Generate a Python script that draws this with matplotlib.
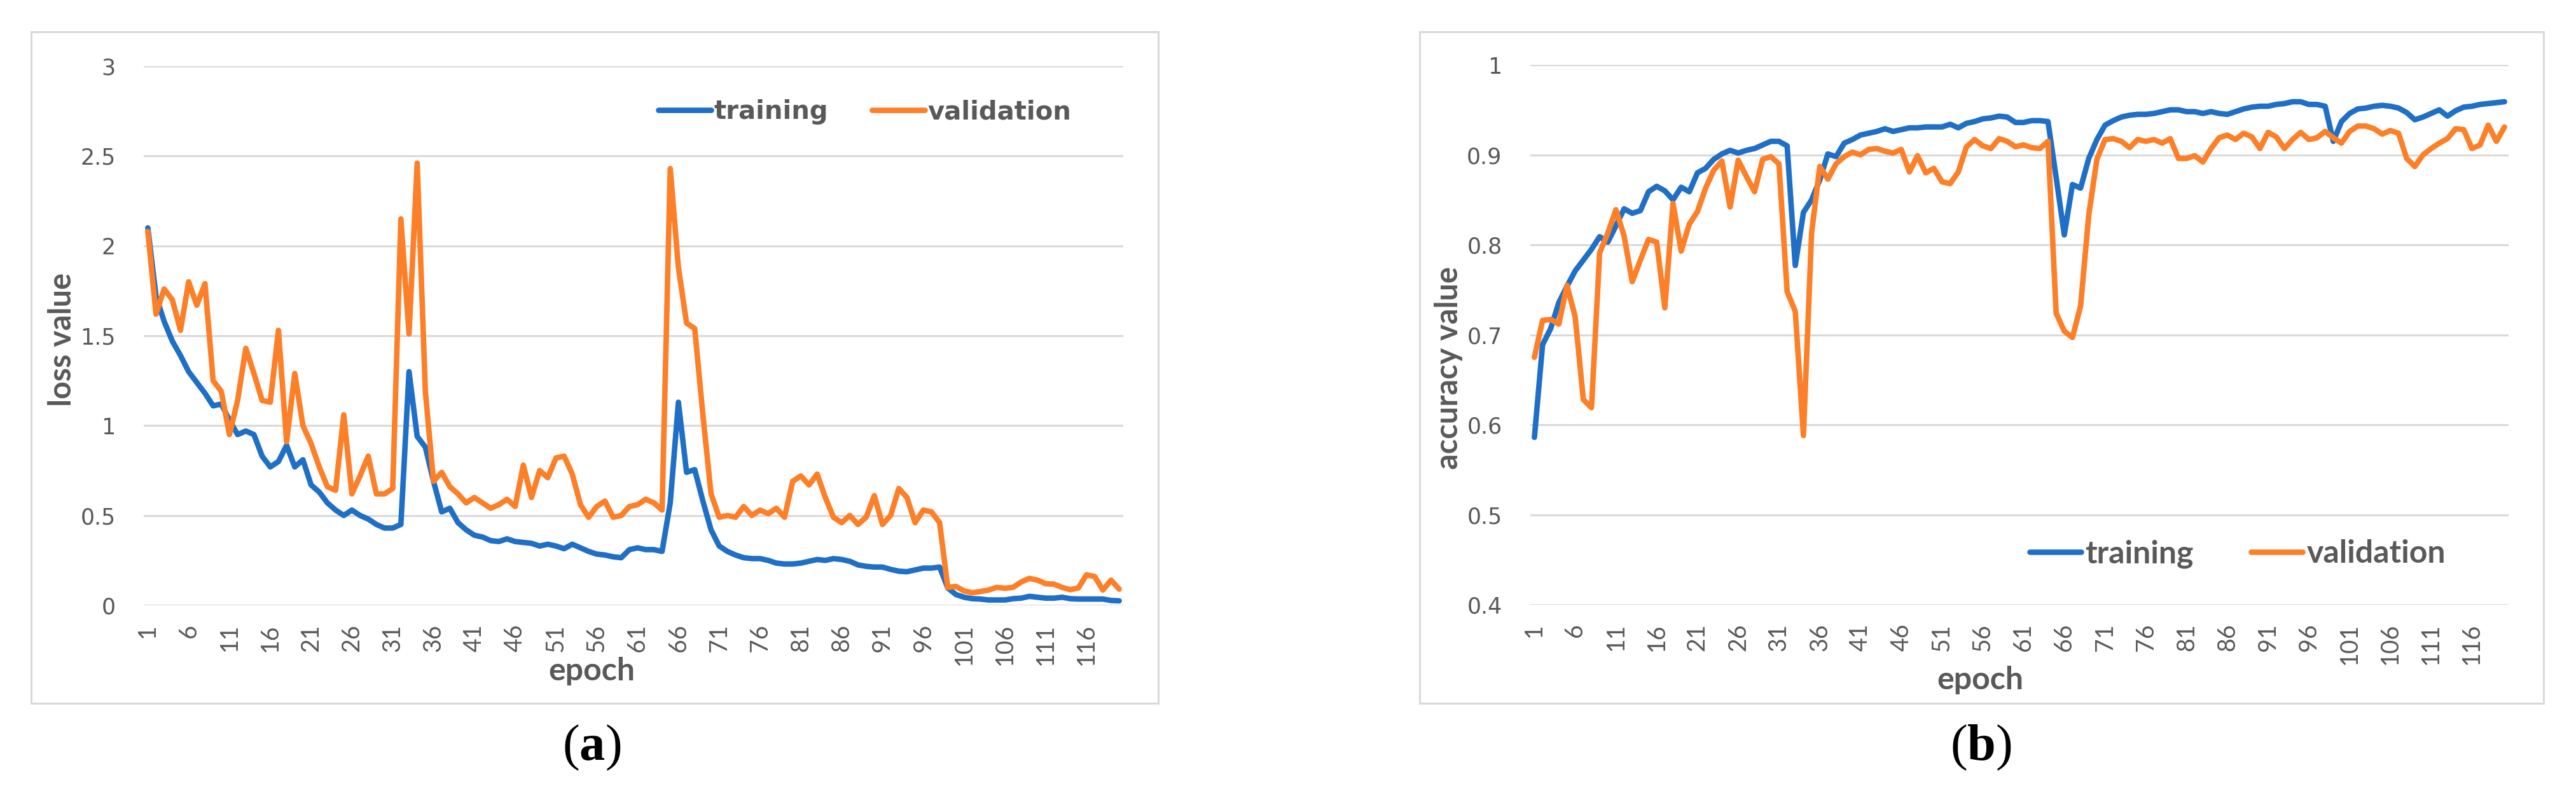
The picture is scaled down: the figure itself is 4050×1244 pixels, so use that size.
import matplotlib
matplotlib.use("Agg")
import matplotlib.pyplot as plt
from matplotlib.patches import Rectangle

# ---------------- data ----------------
epochs = list(range(1, 121))
tick_epochs = list(range(1, 121, 5))

train_loss = [2.10, 1.72, 1.58, 1.47, 1.39, 1.30, 1.24, 1.18, 1.11, 1.12,
              1.03, 0.95, 0.97, 0.95, 0.83, 0.77, 0.80, 0.89, 0.77, 0.81,
              0.67, 0.63, 0.57, 0.53, 0.50, 0.53, 0.50, 0.48, 0.45, 0.43,
              0.43, 0.45, 1.30, 0.94, 0.88, 0.69, 0.52, 0.54, 0.46, 0.42,
              0.39, 0.38, 0.36, 0.355, 0.37, 0.355, 0.35, 0.345, 0.33, 0.34,
              0.33, 0.315, 0.34, 0.32, 0.30, 0.285, 0.28, 0.27, 0.265, 0.31,
              0.32, 0.31, 0.31, 0.30, 0.57, 1.13, 0.74, 0.755, 0.58, 0.42,
              0.33, 0.30, 0.28, 0.265, 0.26, 0.26, 0.25, 0.235, 0.23, 0.23,
              0.235, 0.245, 0.255, 0.25, 0.26, 0.255, 0.245, 0.225, 0.217, 0.213,
              0.213, 0.20, 0.19, 0.187, 0.197, 0.207, 0.207, 0.213, 0.097, 0.06,
              0.045, 0.037, 0.035, 0.03, 0.03, 0.03, 0.037, 0.04, 0.05, 0.045,
              0.04, 0.04, 0.045, 0.037, 0.035, 0.035, 0.035, 0.035, 0.027, 0.025]

val_loss = [2.08, 1.62, 1.76, 1.70, 1.53, 1.80, 1.67, 1.79, 1.25, 1.19,
            0.95, 1.14, 1.43, 1.29, 1.14, 1.13, 1.53, 0.91, 1.29, 1.00,
            0.90, 0.77, 0.66, 0.64, 1.06, 0.62, 0.72, 0.83, 0.62, 0.62,
            0.65, 2.15, 1.51, 2.46, 1.19, 0.69, 0.74, 0.66, 0.62, 0.57,
            0.60, 0.57, 0.54, 0.56, 0.59, 0.55, 0.78, 0.60, 0.75, 0.71,
            0.82, 0.83, 0.73, 0.56, 0.49, 0.55, 0.58, 0.49, 0.50, 0.55,
            0.56, 0.59, 0.57, 0.53, 2.43, 1.88, 1.57, 1.54, 1.06, 0.62,
            0.49, 0.50, 0.49, 0.55, 0.50, 0.53, 0.51, 0.54, 0.49, 0.69,
            0.72, 0.67, 0.73, 0.60, 0.49, 0.46, 0.50, 0.45, 0.49, 0.61,
            0.45, 0.50, 0.65, 0.60, 0.46, 0.53, 0.52, 0.46, 0.10, 0.105,
            0.08, 0.07, 0.077, 0.085, 0.10, 0.095, 0.10, 0.13, 0.15, 0.14,
            0.12, 0.118, 0.10, 0.087, 0.097, 0.17, 0.16, 0.085, 0.14, 0.09]

train_acc = [0.586, 0.689, 0.707, 0.736, 0.754, 0.771, 0.783, 0.795, 0.809, 0.803,
             0.821, 0.840, 0.835, 0.838, 0.859, 0.865, 0.860, 0.850, 0.864, 0.859,
             0.880, 0.885, 0.895, 0.901, 0.905, 0.902, 0.905, 0.907, 0.911, 0.915,
             0.915, 0.910, 0.777, 0.836, 0.850, 0.872, 0.901, 0.898, 0.913, 0.917,
             0.922, 0.924, 0.926, 0.929, 0.926, 0.928, 0.930, 0.930, 0.931, 0.931,
             0.931, 0.934, 0.930, 0.935, 0.937, 0.940, 0.941, 0.943, 0.942, 0.936,
             0.936, 0.938, 0.938, 0.937, 0.875, 0.811, 0.867, 0.863, 0.896, 0.917,
             0.933, 0.938, 0.942, 0.944, 0.945, 0.945, 0.946, 0.948, 0.950, 0.950,
             0.948, 0.948, 0.946, 0.948, 0.946, 0.945, 0.948, 0.951, 0.953, 0.954,
             0.954, 0.956, 0.957, 0.959, 0.959, 0.956, 0.956, 0.954, 0.915, 0.937,
             0.946, 0.951, 0.952, 0.954, 0.955, 0.954, 0.952, 0.947, 0.939, 0.942,
             0.946, 0.950, 0.943, 0.949, 0.953, 0.954, 0.956, 0.957, 0.958, 0.959]

val_acc = [0.675, 0.716, 0.717, 0.712, 0.755, 0.720, 0.628, 0.619, 0.791, 0.813,
           0.839, 0.810, 0.759, 0.783, 0.806, 0.803, 0.730, 0.846, 0.793, 0.823,
           0.837, 0.863, 0.883, 0.893, 0.842, 0.894, 0.876, 0.859, 0.895, 0.898,
           0.890, 0.748, 0.726, 0.588, 0.813, 0.887, 0.873, 0.890, 0.898, 0.903,
           0.900, 0.906, 0.907, 0.904, 0.902, 0.906, 0.881, 0.899, 0.880, 0.885,
           0.870, 0.868, 0.881, 0.909, 0.917, 0.910, 0.907, 0.918, 0.915, 0.909,
           0.911, 0.908, 0.907, 0.915, 0.724, 0.704, 0.697, 0.732, 0.833, 0.895,
           0.917, 0.918, 0.915, 0.908, 0.917, 0.915, 0.917, 0.913, 0.918, 0.896,
           0.896, 0.899, 0.892, 0.907, 0.919, 0.922, 0.917, 0.924, 0.920, 0.907,
           0.925, 0.920, 0.907, 0.917, 0.925, 0.917, 0.919, 0.926, 0.919, 0.913,
           0.926, 0.932, 0.932, 0.929, 0.923, 0.927, 0.924, 0.896, 0.887, 0.900,
           0.907, 0.913, 0.918, 0.929, 0.928, 0.907, 0.911, 0.933, 0.915, 0.931]

loss_ticks = [0, 0.5, 1, 1.5, 2, 2.5, 3]
loss_labels = ["0", "0.5", "1", "1.5", "2", "2.5", "3"]
acc_ticks = [0.4, 0.5, 0.6, 0.7, 0.8, 0.9, 1.0]
acc_labels = ["0.4", "0.5", "0.6", "0.7", "0.8", "0.9", "1"]

series_names = ["training", "validation"]

# ---------------- style ----------------
BLUE = "#1F6FC6"
ORANGE = "#FD7F27"
GRID = "#D9D9D9"
TXT = "#595959"
LW = 6.2

plt.rcParams["mathtext.fontset"] = "custom"
plt.rcParams["mathtext.rm"] = "Liberation Serif"
plt.rcParams["mathtext.bf"] = "Liberation Serif:bold"

W, H = 4050, 1244
fig = plt.figure(figsize=(W / 100, H / 100), dpi=100)


def fx(px):
    return px / W


def fy(py):
    return 1 - py / H


# chart frames
for (x0, x1) in [(49, 1821), (2232, 3999)]:
    fig.patches.append(Rectangle((fx(x0), fy(1106)), fx(x1 - x0), (1106 - 50) / H,
                                 transform=fig.transFigure, fill=False,
                                 edgecolor=GRID, lw=2.2))

ax1 = fig.add_axes([226 / W, 1 - 952 / H, 1540 / W, 848 / H])
ax2 = fig.add_axes([2406 / W, 1 - 951 / H, 1538 / W, 849 / H])

for ax, tr, va, yt, yl, ylim in [(ax1, train_loss, val_loss, loss_ticks, loss_labels, (0, 3)),
                                 (ax2, train_acc, val_acc, acc_ticks, acc_labels, (0.4, 1.0))]:
    ax.plot(epochs, tr, color=BLUE, lw=LW, solid_joinstyle="round",
            solid_capstyle="round", label=series_names[0])
    ax.plot(epochs, va, color=ORANGE, lw=LW, solid_joinstyle="round",
            solid_capstyle="round", label=series_names[1])
    ax.set_xlim(0.5, 120.5)
    ax.set_ylim(*ylim)
    ax.set_yticks(yt)
    ax.set_yticklabels(yl)
    ax.yaxis.grid(True, color=GRID, lw=2.2)
    ax.set_axisbelow(True)
    for s in ax.spines.values():
        s.set_visible(False)
    ax.tick_params(axis="y", length=0, pad=32, labelsize=25, labelcolor=TXT)
    ax.set_xticks(tick_epochs)
    ax.set_xticklabels([str(t) for t in tick_epochs], rotation=90,
                       fontfamily="Lato", fontsize=27, color=TXT)
    ax.tick_params(axis="x", length=0, pad=21)

leg1 = ax1.legend(loc="center", bbox_to_anchor=(0.736, 0.915), ncol=2, frameon=False,
                  prop=dict(family="DejaVu Sans", weight="bold", size=29),
                  handlelength=2.08, handletextpad=0.1, columnspacing=1.7,
                  borderpad=0, borderaxespad=0)
leg2 = ax2.legend(loc="center", bbox_to_anchor=(0.723, 0.094), ncol=2, frameon=False,
                  prop=dict(family="Lato", weight="bold", size=36),
                  handlelength=1.62, handletextpad=0.14, columnspacing=1.8,
                  borderpad=0, borderaxespad=0)
for leg in (leg1, leg2):
    for t in leg.get_texts():
        t.set_color(TXT)

# axis titles
fig.text(fx(98), fy(534), "loss value", rotation=90, ha="center", va="center",
         fontfamily="Lato", fontweight="bold", fontsize=35, color=TXT)
fig.text(fx(2277), fy(579), "accuracy value", rotation=90, ha="center", va="center",
         fontfamily="Lato", fontweight="bold", fontsize=35, color=TXT)
fig.text(fx(930), fy(1056), "epoch", ha="center", va="center",
         fontfamily="Lato", fontweight="bold", fontsize=36, color=TXT)
fig.text(fx(3113), fy(1069), "epoch", ha="center", va="center",
         fontfamily="Lato", fontweight="bold", fontsize=36, color=TXT)

# panel labels
fig.text(fx(930), fy(1175), r"$(\mathbf{a})$", ha="center", va="center",
         fontsize=58, color="black")
fig.text(fx(3114), fy(1175), r"$(\mathbf{b})$", ha="center", va="center",
         fontsize=58, color="black")

fig.savefig("out.png", dpi=100, facecolor="white")
